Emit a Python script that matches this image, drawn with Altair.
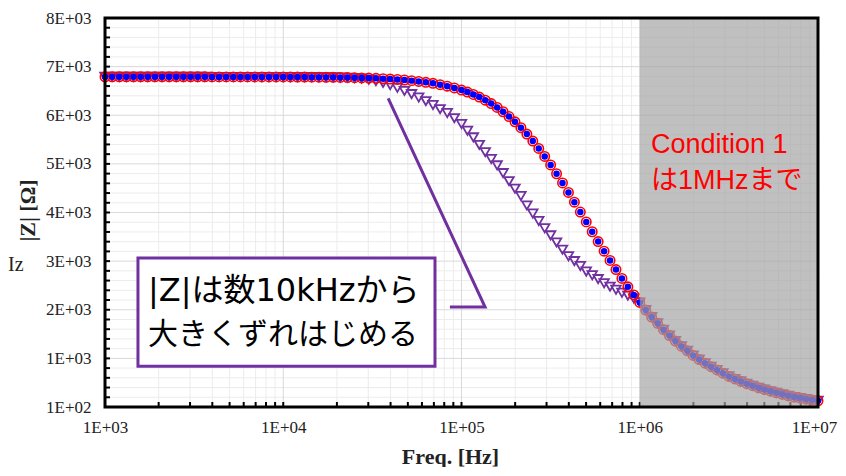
import altair as alt
import pandas as pd

# ---------------- data ----------------
# frequency mantissas per decade (25 pts/decade below 100 kHz, 30 pts/decade above)
MANT25 = [1.0, 1.0965, 1.2023, 1.3183, 1.4454, 1.5849, 1.7378, 1.9055, 2.0893, 2.2909,
          2.5119, 2.7542, 3.0200, 3.3113, 3.6308, 3.9811, 4.3652, 4.7863, 5.2481, 5.7544,
          6.3096, 6.9183, 7.5858, 8.3176, 9.1201]
MANT30 = [1.0, 1.0798, 1.1659, 1.2589, 1.3594, 1.4678, 1.5849, 1.7113, 1.8478, 1.9953,
          2.1544, 2.3263, 2.5119, 2.7123, 2.9286, 3.1623, 3.4145, 3.6869, 3.9811, 4.2987,
          4.6416, 5.0119, 5.4117, 5.8434, 6.3096, 6.8129, 7.3564, 7.9433, 8.5770, 9.2611]

freq = ([m * 1e3 for m in MANT25] + [m * 1e4 for m in MANT25] +
        [m * 1e5 for m in MANT30] + [m * 1e6 for m in MANT30] + [1e7])

# |Z| condition 1 (red open circles)
z_cond1 = [
    6890, 6890, 6890, 6890, 6890, 6890, 6890, 6890, 6890, 6890, 6890, 6890, 6890,
    6890, 6890, 6889, 6889, 6889, 6889, 6889, 6889, 6888, 6888, 6888, 6888,
    6887, 6887, 6886, 6885, 6884, 6883, 6881, 6880, 6877, 6875, 6872, 6868, 6864,
    6859, 6852, 6845, 6836, 6825, 6812, 6796, 6778, 6756, 6729, 6698, 6661,
    6618, 6576, 6527, 6473, 6410, 6340, 6261, 6172, 6074, 5964, 5844, 5713, 5570,
    5417, 5253, 5079, 4897, 4708, 4512, 4313, 4110, 3907, 3704, 3503, 3305, 3113,
    2926, 2745, 2571, 2405,
    2250, 2095, 1950, 1820, 1690, 1570, 1455, 1350, 1255, 1160, 1075, 1000, 930,
    862, 795, 730, 678, 628, 580, 538, 495, 460, 425, 392, 360, 330, 305, 283, 262, 242,
    228]

# |Z| condition 2 (blue filled circles) - coincides with condition 1
z_cond2 = list(z_cond1)

# |Z| condition 3 (purple open triangles)
z_cond3 = [
    6890, 6890, 6890, 6890, 6890, 6890, 6890, 6890, 6890, 6890, 6890, 6890, 6890,
    6890, 6890, 6889, 6889, 6889, 6889, 6889, 6889, 6888, 6888, 6888, 6888,
    6887, 6887, 6886, 6885, 6884, 6883, 6881, 6879, 6876, 6872, 6866, 6855, 6830,
    6800, 6765, 6720, 6665, 6600, 6535, 6465, 6390, 6310, 6225, 6145, 6040,
    5920, 5780, 5645, 5490, 5340, 5200, 5070, 4910, 4745, 4590, 4440, 4245, 4080,
    3925, 3775, 3630, 3485, 3335, 3200, 3100, 3000, 2885, 2810, 2730, 2645, 2575,
    2510, 2450, 2390, 2330,
    2250, 2095, 1950, 1820, 1690, 1570, 1455, 1350, 1255, 1160, 1075, 1000, 930,
    862, 795, 730, 678, 628, 580, 538, 495, 460, 425, 392, 360, 330, 305, 283, 262, 242,
    228]

X_TICKS = [1e3, 1e4, 1e5, 1e6, 1e7]
X_TICK_LABELS = ["1E+03", "1E+04", "1E+05", "1E+06", "1E+07"]
Y_TICKS = [100, 1100, 2100, 3100, 4100, 5100, 6100, 7100, 8100]
Y_TICK_LABELS = ["1E+02", "1E+03", "2E+03", "3E+03", "4E+03", "5E+03", "6E+03", "7E+03", "8E+03"]
X_MINOR = [k * d for d in [1e3, 1e4, 1e5, 1e6] for k in range(2, 10)]
Y_MINOR = [v for v in range(100, 8101, 200) if v not in Y_TICKS]

# shaded region (Condition 1 valid up to 1 MHz)
SHADE_X = [1e6, 1e7]

# annotation: callout box, its text and leader line (data coordinates)
BOX_X = [1531, 71000]
BOX_Y = [939, 3162]
BOX_TEXT = ["|Z|は数10kHzから", "大きくずれはじめる"]
BOX_TEXT_SIZE = [32, 30]
BOX_TEXT_X = [1742, 1742]
BOX_TEXT_Y = [2483, 1578]
LEADER_X = [38800, 135600, 86100]
LEADER_Y = [6448, 2154, 2154]
RED_TEXT = ["Condition 1", "は1MHzまで"]
RED_TEXT_X = [1.156e6, 1.156e6]
RED_TEXT_Y = [5490, 4750]
EDGE_TEXT = "Iz"   # clipped fragment at the left edge of the picture

W, H = 713, 389

# ---------------- chart ----------------
xs = alt.Scale(type="log", domain=[1e3, 1e7], nice=False)
ys = alt.Scale(type="linear", domain=[100, 8100], nice=False, zero=False)

x_label_expr = "[" + ",".join("'%s'" % s for s in X_TICK_LABELS) + "][indexof([" + \
    ",".join(str(int(v)) for v in X_TICKS) + "], datum.value)]"
y_label_expr = "[" + ",".join("'%s'" % s for s in Y_TICK_LABELS) + "][indexof([" + \
    ",".join(str(v) for v in Y_TICKS) + "], datum.value)]"

XA = alt.Axis(
    values=X_TICKS, labelExpr=x_label_expr, title="Freq. [Hz]", grid=False, ticks=False,
    domain=False, labelFont="Liberation Serif", labelFontSize=17, labelColor="#222222",
    labelPadding=12, labelFlush=False,
    labelOffset={"condition": {"test": "datum.value >= 10000000", "value": -4}, "value": 0},
    titleFont="Liberation Serif", titleFontSize=22,
    titleFontWeight="bold", titleColor="#222222", titleY=49, titleX=345,
    titleBaseline="middle", titleAlign="center")
YA = alt.Axis(
    values=Y_TICKS, labelExpr=y_label_expr, title="|Z| [Ω]", grid=False, ticks=False,
    domain=False, labelFont="Liberation Serif", labelFontSize=17, labelColor="#222222",
    labelPadding=14, labelFlush=False, titleFont="Liberation Serif", titleFontSize=22,
    titleFontWeight="bold", titleColor="#222222", titleX=-78, titleY=192,
    titleAngle=-90, titleBaseline="middle", titleAlign="center")


def X(field):
    return alt.X(field, type="quantitative", scale=xs, axis=XA)


def Y(field):
    return alt.Y(field, type="quantitative", scale=ys, axis=YA)


df = pd.DataFrame({"freq": freq, "z1": z_cond1, "z2": z_cond2, "z3": z_cond3})

xminor = alt.Chart(pd.DataFrame({"x": X_MINOR})).mark_rule(color="#ececec", strokeWidth=1).encode(
    x=X("x"))
yminor = alt.Chart(pd.DataFrame({"y": Y_MINOR})).mark_rule(color="#ececec", strokeWidth=1).encode(
    y=Y("y"))
xmajor = alt.Chart(pd.DataFrame({"x": X_TICKS})).mark_rule(color="#d9d9d9", strokeWidth=1).encode(
    x=X("x"))
ymajor = alt.Chart(pd.DataFrame({"y": Y_TICKS})).mark_rule(color="#d9d9d9", strokeWidth=1).encode(
    y=Y("y"))

xt_all = X_TICKS + X_MINOR
xticks = alt.Chart(pd.DataFrame({"x": xt_all})).mark_rule(color="black", strokeWidth=2).encode(
    x=X("x"), y=alt.value(H), y2=alt.value(H - 5))
yt_all = Y_TICKS + Y_MINOR
yticks = alt.Chart(pd.DataFrame({"y": yt_all})).mark_rule(color="black", strokeWidth=2).encode(
    y=Y("y"), x=alt.value(0), x2=alt.value(5))

tri = alt.Chart(df).mark_point(shape="triangle-down", filled=False, color="#7030a0",
                               strokeWidth=1.8, size=90, opacity=1).encode(
    x=X("freq"), y=Y("z3"))
red = alt.Chart(df).mark_point(shape="circle", filled=False, color="#ff0000",
                               strokeWidth=1.6, size=88, opacity=1).encode(
    x=X("freq"), y=Y("z1"))
blue = alt.Chart(df).mark_point(shape="circle", filled=True, color="#0000ff",
                                size=42, opacity=1, strokeWidth=0).encode(
    x=X("freq"), y=Y("z2"))

shade = alt.Chart(pd.DataFrame({"x": [SHADE_X[0]], "x2": [SHADE_X[1]], "y": [100], "y2": [8100]})).mark_rect(
    color="#a3a3a3", opacity=0.69).encode(
    x=X("x"), x2="x2:Q", y=Y("y"), y2="y2:Q")

leader = alt.Chart(pd.DataFrame({"x": LEADER_X, "y": LEADER_Y, "o": [0, 1, 2]})).mark_line(
    color="#7030a0", strokeWidth=3).encode(
    x=X("x"), y=Y("y"), order="o:O")

box = alt.Chart(pd.DataFrame({"x": [BOX_X[0]], "x2": [BOX_X[1]], "y": [BOX_Y[0]], "y2": [BOX_Y[1]]})).mark_rect(
    fill="white", stroke="#7030a0", strokeWidth=3).encode(
    x=X("x"), x2="x2:Q", y=Y("y"), y2="y2:Q")

box_text = alt.Chart(pd.DataFrame({"x": BOX_TEXT_X, "y": BOX_TEXT_Y, "t": BOX_TEXT,
                                   "s": BOX_TEXT_SIZE})).mark_text(
    align="left", baseline="middle", font="DejaVu Sans, Noto Sans CJK JP",
    color="black").encode(
    x=X("x"), y=Y("y"), text="t:N", size=alt.Size("s:Q", scale=None, legend=None))

red_text = alt.Chart(pd.DataFrame({"x": RED_TEXT_X, "y": RED_TEXT_Y, "t": RED_TEXT})).mark_text(
    align="left", baseline="middle", font="Liberation Sans, Noto Sans CJK JP", fontSize=27,
    color="#ff0000").encode(
    x=X("x"), y=Y("y"), text="t:N")

edge_text = alt.Chart(pd.DataFrame({"t": [EDGE_TEXT]})).mark_text(
    align="left", baseline="middle", font="Liberation Serif", fontSize=20,
    color="#222222").encode(
    x=alt.value(-97), y=alt.value(247), text="t:N")

frame = alt.Chart(pd.DataFrame({"a": [0]})).mark_rect(
    filled=False, stroke="black", strokeWidth=3).encode(
    x=alt.value(0), x2=alt.value(W), y=alt.value(0), y2=alt.value(H))

chart = alt.layer(
    xminor, yminor, xmajor, ymajor, xticks, yticks, tri, red, blue, shade,
    leader, box, box_text, red_text, edge_text, frame
).properties(
    width=W, height=H,
    autosize=alt.AutoSizeParams(type="none"),
    padding={"left": 97, "top": 10, "right": 20, "bottom": 60},
    background="white",
).configure_view(stroke=None)

chart.save("out.html", embed_options={"renderer": "svg", "actions": False})
